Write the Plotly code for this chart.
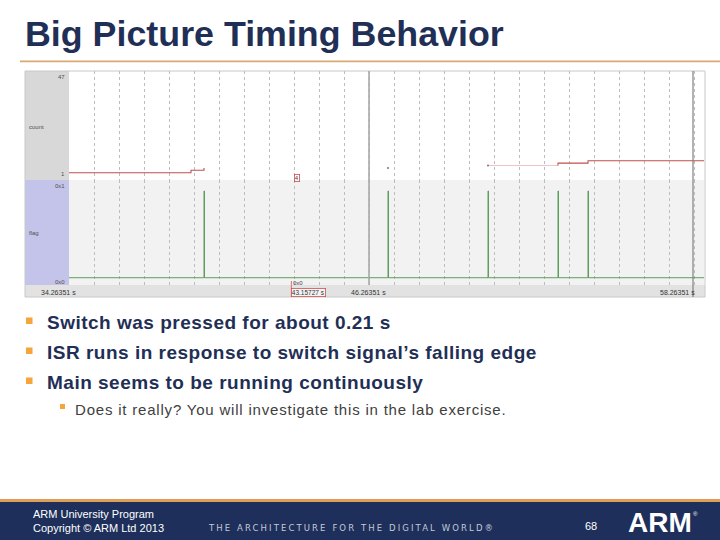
import plotly.graph_objects as go

W, H = 720, 540
def px(x): return x / W
def py(y): return 1 - y / H

# ---------------- data ----------------
t_start, t_end = 34.2635, 59.6635          # visible time window (s)
time_labels = ["34.26351 s", "46.26351 s", "58.26351 s"]
cursor_times = [46.2635, 59.2235]
marker_time = 43.15727

# count signal (red) segments
count_t1 = [34.2635, 39.1435, 39.6635]
count_v1 = [1, 2, 3]
count_faint_t = [51.0235, 53.8235]
count_faint_v = [4, 4]
count_t2 = [53.8235, 53.8235, 55.0235, 59.6635]
count_v2 = [4, 5, 6, 6]
count_dot_t = [47.0235, 51.0235]
count_dot_v = [3, 4]

# flag signal (green) pulses
flag_pulses = [39.6635, 47.0235, 51.0235, 53.8235, 55.0235]
pulse_width = 0.02

bullets = ["Switch was pressed for about 0.21 s",
           "ISR runs in response to switch signal\u2019s falling edge",
           "Main seems to be running continuously"]
sub_bullet = "Does it really? You will investigate this in the lab exercise."

# ---------------- build flag arrays ----------------
flag_t = [t_start]
flag_v = [0]
for p in flag_pulses:
    flag_t += [p, p + pulse_width]
    flag_v += [1, 0]
flag_t.append(t_end)
flag_v.append(0)

NAVY = "#1f2f56"
RED = "#c0504d"
GREEN = "#5c9e5c"

fig = go.Figure()
fig.add_trace(go.Scatter(x=count_t1, y=count_v1, mode="lines", line=dict(color=RED, width=1.1, shape="hv"),
                         xaxis="x", yaxis="y", hoverinfo="skip"))
fig.add_trace(go.Scatter(x=count_faint_t, y=count_faint_v, mode="lines", line=dict(color="#f0c4c4", width=1.1, shape="hv"),
                         xaxis="x", yaxis="y", hoverinfo="skip"))
fig.add_trace(go.Scatter(x=count_t2, y=count_v2, mode="lines", line=dict(color=RED, width=1.1, shape="hv"),
                         xaxis="x", yaxis="y", hoverinfo="skip"))
fig.add_trace(go.Scatter(x=count_dot_t, y=count_dot_v, mode="markers", marker=dict(color="#777", size=2),
                         xaxis="x", yaxis="y", hoverinfo="skip"))
fig.add_trace(go.Scatter(x=flag_t, y=flag_v, mode="lines", line=dict(color=GREEN, width=1.0, shape="hv"),
                         xaxis="x2", yaxis="y2", hoverinfo="skip"))

xdom = [px(69), px(704)]
grid = dict(showgrid=True, gridcolor="#bdbdbd", griddash="dot", gridwidth=1, tick0=t_start, dtick=1,
            showticklabels=False, zeroline=False, range=[t_start, t_end], domain=xdom, ticks="",
            showline=False, fixedrange=True)
fig.update_layout(
    xaxis=dict(**grid, anchor="y"),
    xaxis2=dict(**grid, anchor="y2", matches="x"),
    xaxis3=dict(**grid, anchor="y3", matches="x"),
    yaxis=dict(domain=[py(180), py(71)], range=[-2.04, 43.4], showgrid=False, zeroline=False,
               showticklabels=False, anchor="x", fixedrange=True),
    yaxis2=dict(domain=[py(285), py(180)], range=[-0.084, 1.127], showgrid=False, zeroline=False,
                showticklabels=False, anchor="x2", fixedrange=True),
    yaxis3=dict(domain=[py(297), py(285)], range=[0, 1], showgrid=False, zeroline=False,
                showticklabels=False, anchor="x3", fixedrange=True),
)

shapes = []
def rect(x0, y0, x1, y1, color, layer="below", line=None):
    shapes.append(dict(type="rect", xref="paper", yref="paper", x0=px(x0), x1=px(x1), y0=py(y1), y1=py(y0),
                       fillcolor=color, line=line or dict(width=0), layer=layer))

# panel backgrounds
rect(25, 71, 69, 180, "#d8d8d8")
rect(25, 180, 69, 285, "#c4c4ea")
rect(69, 180, 704, 285, "#f2f2f2")
rect(25, 285, 705, 297, "#e2e2e2")
rect(25, 71, 705, 297, "rgba(0,0,0,0)", layer="above", line=dict(color="#c8c8c8", width=1))
# title rule
rect(20, 60.5, 720, 62.3, "#d6aa72")
# footer
rect(0, 500, 720, 540, "#1d2f5a")
rect(0, 499, 720, 502, "#e19f55")
# bullet squares
for yb in [321, 351, 381]:
    rect(26, yb - 3.5, 32.5, yb + 3, "#f5a53a", layer="above")
rect(60, 404, 65, 409, "#f5a53a", layer="above")

# cursor lines
shapes.append(dict(type="line", xref="x", yref="paper", x0=cursor_times[0], x1=cursor_times[0],
                   y0=py(285), y1=py(71), line=dict(color="#a8a8a8", width=1.6)))
shapes.append(dict(type="line", xref="x", yref="paper", x0=cursor_times[1], x1=cursor_times[1],
                   y0=py(297), y1=py(71), line=dict(color="#808080", width=1.2)))
shapes.append(dict(type="line", xref="x", yref="paper", x0=marker_time, x1=marker_time,
                   y0=py(297), y1=py(281), line=dict(color="#d05050", width=0.8)))
fig.update_layout(shapes=shapes)

ann = []
def text(x, y, s, size, color, xanchor="left", bold=False, family="Liberation Sans", spacing=None,
         xref="paper", yref="paper", **kw):
    if spacing is not None:
        s = f'<span style="letter-spacing:{spacing}px">{s}</span>'
    if bold:
        s = f"<b>{s}</b>"
    ann.append(dict(x=px(x) if xref == "paper" else x, y=py(y) if yref == "paper" else y,
                    xref=xref, yref=yref, text=s, showarrow=False,
                    xanchor=xanchor, yanchor="middle", font=dict(size=size, color=color, family=family), **kw))

text(23, 34, "Big Picture Timing Behavior", 35.8, NAVY, bold=True, family="Liberation Sans Narrow, Liberation Sans")
for i, b in enumerate(bullets):
    text(45, 322 + 30 * i, b, 19, NAVY, bold=True, spacing=0.5)
text(73, 409, sub_bullet, 15, "#404040", spacing=0.8)

# panel labels
lab = "#505050"
text(67, 77, "47", 6, lab, xanchor="right")
text(27, 127, "count", 6, lab)
text(67, 174, "1", 6, lab, xanchor="right")
text(67, 186, "0x1", 6, lab, xanchor="right")
text(27, 233, "flag", 6, lab)
text(67, 282, "0x0", 6, lab, xanchor="right")
text(58, 292, time_labels[0], 7, "#333", xanchor="center")
text(369, 292, time_labels[1], 7, "#333", xanchor="center")
text(697, 292, time_labels[2], 7, "#333", xanchor="right")
# marker labels
ann.append(dict(x=marker_time, y=py(292), xref="x", yref="paper", text="43.15727 s", showarrow=False,
                xanchor="left", yanchor="middle", font=dict(size=6.5, color="#333", family="Liberation Sans"),
                bordercolor="#d05050", borderwidth=0.8, borderpad=0, bgcolor="#f4f4f4"))
ann.append(dict(x=marker_time, y=py(282.5), xref="x", yref="paper", text="0x0", showarrow=False,
                xanchor="left", yanchor="middle", font=dict(size=6, color="#444", family="Liberation Sans")))
ann.append(dict(x=marker_time + 0.1, y=py(178), xref="x", yref="paper", text="4", showarrow=False,
                xanchor="left", yanchor="middle", font=dict(size=6, color="#444", family="Liberation Sans"),
                bordercolor="#d05050", borderwidth=0.8, borderpad=0))

# footer text
text(31, 514, "ARM University Program", 11, "white")
text(31, 528, "Copyright \u00a9 ARM Ltd 2013", 11, "white")
text(206, 528, "THE ARCHITECTURE FOR THE DIGITAL WORLD\u00ae", 8.5, "#c4cad6", family="DejaVu Sans", spacing=2.1)
text(591, 526, "68", 11, "white", xanchor="center")
text(626, 522, "ARM", 28, "white", bold=True)
text(695, 514, "\u00ae", 6, "white", xanchor="center")

fig.update_layout(annotations=ann, width=W, height=H, margin=dict(l=0, r=0, t=0, b=0),
                  paper_bgcolor="white", plot_bgcolor="rgba(0,0,0,0)", showlegend=False)
fig.write_html("out.html", config={"displayModeBar": False, "staticPlot": True},
               post_script="document.body.style.margin='0';document.body.style.padding='0';")
